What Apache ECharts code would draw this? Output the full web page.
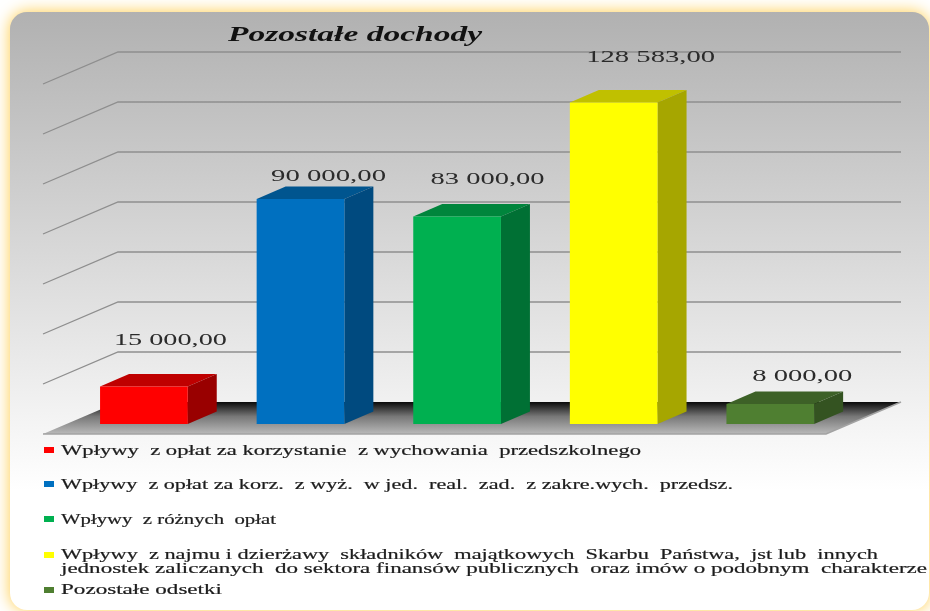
<!DOCTYPE html>
<html><head><meta charset="utf-8">
<style>html,body{margin:0;padding:0;background:#fff}#c{width:930px;height:611px;filter:blur(0.35px)}</style>
<script src="https://cdn.jsdelivr.net/npm/echarts@6/dist/echarts.min.js"></script>
</head><body><div id="c"></div>
<script>
const titleText = 'Pozostałe dochody';
const categories = [
  'Wpływy  z opłat za korzystanie  z wychowania  przedszkolnego',
  'Wpływy  z opłat za korz.  z wyż.  w jed.  real.  zad.  z zakre.wych.  przedsz.',
  'Wpływy  z różnych  opłat',
  'Wpływy  z najmu i dzierżawy  składników  majątkowych  Skarbu  Państwa,  jst lub  innych\njednostek zaliczanych  do sektora finansów publicznych  oraz imów o podobnym  charakterze',
  'Pozostałe odsetki'
];
const values = [15000, 90000, 83000, 128583, 8000];
const gridValues = [20000, 40000, 60000, 80000, 100000, 120000, 140000];
const frontColors = ['#ff0000', '#0070c0', '#00b050', '#ffff00', '#4f7f31'];
const topColors = ['#bf0000', '#00558f', '#00853c', '#c0c000', '#3d6127'];
const sideColors = ['#990000', '#004a7f', '#007034', '#a6a600', '#345321'];
// label placement: [horizontal shift from bar centre, lift above bar top, width]
const labelPlace = [[26.5, 46, 113], [28, 22.5, 115], [30.5, 36.5, 114], [37, 45, 129], [32, 27.5, 100]];
// legend rows: [y of line centre, line width]
const legendRows = [[[451, 580]], [[485, 672]], [[520, 215]], [[555, 817]], [[590, 161]]];
legendRows[3].push([569, 866]);
const legendMarkY = [450, 484, 519, 555, 590];

const meas = document.createElement('canvas').getContext('2d');
function stretch(text, font, width) { meas.font = font; return width / meas.measureText(text).width; }
function fmt(v) {
  return String(Math.floor(v)).replace(/\B(?=(\d{3})+$)/g, ' ') + ',00';
}

const WALL_DX = 52.4, WALL_DY = -22, FRONT_DX = -22.6, FRONT_DY = 10;
const BAR_DX = 29, BAR_DY = -12.5;
const LABEL_FONT = '16px "Liberation Serif"';
const LEGEND_FONT = '14.5px "Liberation Serif"';
const TITLE_FONT = 'italic bold 21px "Liberation Serif"';

const graphics = [{
  type: 'rect', z: -10, silent: true,
  shape: { x: 10, y: 12, width: 919, height: 598, r: 17 },
  style: {
    fill: { type: 'linear', x: 0, y: 0, x2: 0, y2: 1, colorStops: [
      { offset: 0, color: '#b1b1b1' }, { offset: 0.8, color: '#ffffff' }, { offset: 1, color: '#ffffff' }] },
    shadowBlur: 16, shadowColor: '#ffcb45'
  }
}, {
  type: 'text', z: 10, x: 228, y: 35.5, scaleX: stretch(titleText, TITLE_FONT, 254),
  style: { text: titleText, font: TITLE_FONT, fill: '#111', verticalAlign: 'middle' }
}];
categories.forEach((name, i) => {
  graphics.push({ type: 'rect', z: 10, shape: { x: 44, y: legendMarkY[i] - 3, width: 10, height: 6 }, style: { fill: frontColors[i] } });
  name.split('\n').forEach((line, j) => {
    const r = legendRows[i][j];
    graphics.push({
      type: 'text', z: 10, x: 61, y: r[0], scaleX: stretch(line, LEGEND_FONT, r[1]),
      style: { text: line, font: LEGEND_FONT, fill: '#1c1c1c', stroke: '#1c1c1c', lineWidth: 0.2, verticalAlign: 'middle' }
    });
  });
});

const chart = echarts.init(document.getElementById('c'), null, { renderer: 'canvas', width: 930, height: 611 });
chart.setOption({
  animation: false,
  backgroundColor: '#fff',
  graphic: graphics,
  grid: { left: 65.6, top: 74, width: 783, height: 350 },
  xAxis: { type: 'category', data: categories, show: false },
  yAxis: { type: 'value', min: 0, max: 140000, interval: 20000, show: false },
  series: [
    { // floor
      type: 'custom', coordinateSystem: 'cartesian2d', z: 1, silent: true, data: [[0, 0]],
      renderItem(params, api) {
        const cs = params.coordSys, y0 = api.coord([0, 0])[1], l = cs.x, w = cs.width;
        const pts = [[l + FRONT_DX, y0 + FRONT_DY], [l + FRONT_DX + w, y0 + FRONT_DY], [l + WALL_DX + w, y0 + WALL_DY], [l + WALL_DX, y0 + WALL_DY]];
        return { type: 'group', children: [
          { type: 'polygon', shape: { points: pts }, style: {
            fill: { type: 'linear', x: 0, y: 0, x2: 0, y2: 1, colorStops: [
              { offset: 0, color: '#0a0a0a' }, { offset: 0.45, color: '#777' }, { offset: 1, color: '#b9b9b9' }] } } },
          { type: 'polyline', shape: { points: [pts[0], pts[1], pts[2]] }, style: { fill: 'none', stroke: '#a3a3a3', lineWidth: 1.6 } }
        ] };
      }
    },
    { // wall and side grid lines
      type: 'custom', coordinateSystem: 'cartesian2d', z: 2, silent: true,
      data: gridValues.map(v => [0, v]),
      renderItem(params, api) {
        const cs = params.coordSys, y = api.coord([0, api.value(1)])[1], l = cs.x, w = cs.width;
        return { type: 'polyline', shape: { points: [[l + FRONT_DX, y + FRONT_DY], [l + WALL_DX, y + WALL_DY], [l + WALL_DX + w, y + WALL_DY]] },
          style: { fill: 'none', stroke: '#8e8e8e', lineWidth: 1.3 } };
      }
    },
    { // bars
      type: 'custom', coordinateSystem: 'cartesian2d', z: 3,
      data: values.map((v, i) => [i, v]),
      renderItem(params, api) {
        const i = api.value(0), v = api.value(1);
        const top = api.coord([i, v]), base = api.coord([i, 0]);
        const bw = api.size([1, 0])[0] * 0.56;
        const L = top[0] - bw / 2, R = top[0] + bw / 2, T = top[1], B = base[1];
        const place = labelPlace[i];
        const label = fmt(v);
        return { type: 'group', children: [
          { type: 'polygon', shape: { points: [[L, T], [R, T], [R + BAR_DX, T + BAR_DY], [L + BAR_DX, T + BAR_DY]] }, style: { fill: topColors[i] } },
          { type: 'polygon', shape: { points: [[R, T], [R + BAR_DX, T + BAR_DY], [R + BAR_DX, B + BAR_DY], [R, B]] }, style: { fill: sideColors[i] } },
          { type: 'rect', shape: { x: L, y: T, width: R - L, height: B - T }, style: { fill: frontColors[i] } },
          { type: 'text', x: top[0] + place[0], y: T - place[1], scaleX: stretch(label, LABEL_FONT, place[2]),
            style: { text: label, font: LABEL_FONT, fill: '#2b2b2b', align: 'center', verticalAlign: 'middle' } }
        ] };
      }
    }
  ]
});
</script></body></html>
